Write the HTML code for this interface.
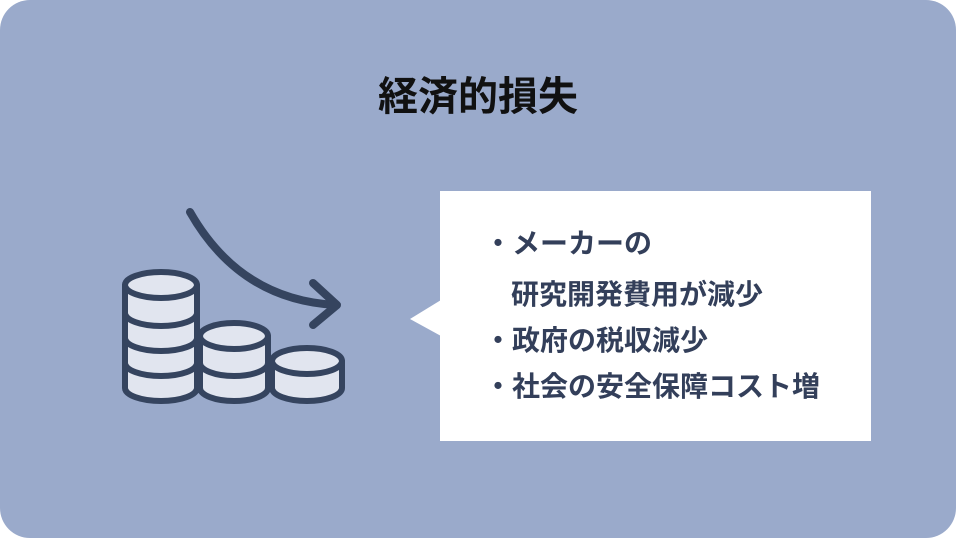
<!DOCTYPE html>
<html><head><meta charset="utf-8"><style>
html,body{margin:0;padding:0;background:#fff;}
.wrap{position:relative;width:956px;height:538px;overflow:hidden;}
.bg{position:absolute;left:0;top:0;width:956px;height:538px;background:#9aaacb;border-radius:30px;}
.title{position:absolute;left:0;width:956px;top:68px;text-align:center;font:bold 40px "Liberation Sans","Noto Sans CJK JP",sans-serif;color:#111;line-height:58px;}
.box{position:absolute;left:440px;top:191px;width:431px;height:250px;background:#fff;}
.line{position:absolute;font:bold 28px "Liberation Sans","Noto Sans CJK JP",sans-serif;color:#333f5a;white-space:nowrap;line-height:40px;}
</style></head><body><div class="wrap">
<div class="bg"></div>
<div class="title">経済的損失</div>
<svg style="position:absolute;left:0;top:0" width="956" height="538">
<polygon points="410,319 441,300 441,336" fill="#fff"/>
<g stroke="#35445f" stroke-width="6" fill="#e1e5ef" stroke-linejoin="round">
<path d="M125,285 L125,388 A36,13 0 0 0 197,388 L197,285 Z"/>
<ellipse cx="161" cy="285" rx="36" ry="13"/>
<path d="M125,313 A36,13 0 0 0 197,313 M125,338 A36,13 0 0 0 197,338 M125,363 A36,13 0 0 0 197,363" fill="none"/>
<path d="M200,336 L200,388 A34,13 0 0 0 268,388 L268,336 Z"/>
<ellipse cx="234" cy="336" rx="34" ry="13"/>
<path d="M200,363 A34,13 0 0 0 268,363" fill="none"/>
<path d="M272,361 L272,388 A35,13 0 0 0 342,388 L342,361 Z"/>
<ellipse cx="307" cy="361" rx="35" ry="13"/>
</g>
<g stroke="#35445f" stroke-width="8" fill="none" stroke-linecap="round" stroke-linejoin="round">
<path d="M190,212 Q240,300 336,305"/>
<path d="M313,283 L337,305 L313,325"/>
</g>
</svg>
<div class="box"></div>
<div class="line" style="left:484px;top:224px">・メーカーの</div>
<div class="line" style="left:511px;top:275px">研究開発費用が減少</div>
<div class="line" style="left:484px;top:321px">・政府の税収減少</div>
<div class="line" style="left:484px;top:367px">・社会の安全保障コスト増</div>
</div></body></html>
